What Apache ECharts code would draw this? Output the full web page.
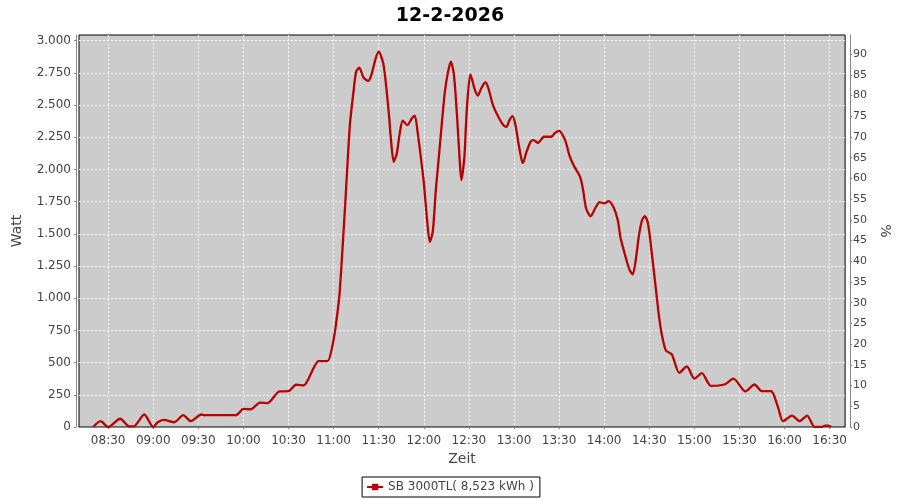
<!DOCTYPE html>
<html>
<head>
<meta charset="utf-8">
<script src="https://cdn.jsdelivr.net/npm/echarts@6/dist/echarts.min.js"></script>
<style>html,body{margin:0;padding:0;background:#fff;}#c{width:900px;height:500px;}</style>
</head>
<body>
<div id="c"></div>
<script>
const title = '12-2-2026';
const seriesName = 'SB 3000TL( 8,523 kWh )';
const xTickLabels = ['08:30','09:00','09:30','10:00','10:30','11:00','11:30','12:00','12:30','13:00','13:30','14:00','14:30','15:00','15:30','16:00','16:30'];
const wattTicks = [0,250,500,750,1000,1250,1500,1750,2000,2250,2500,2750,3000];
const pctTicks = [0,5,10,15,20,25,30,35,40,45,50,55,60,65,70,75,80,85,90];
const times = ['08:20','08:25','08:30','08:38','08:44','08:47','08:54','09:00','09:03','09:07','09:14','09:20','09:25','09:32','09:34','09:55',
'10:00','10:05','10:11','10:16','10:24','10:30','10:35','10:40','10:47','10:50','10:56','10:59','11:01','11:03','11:04','11:06','11:08','11:10','11:11','11:13','11:15','11:17','11:20','11:23','11:25','11:28','11:30','11:33','11:35','11:37','11:38','11:40','11:42','11:44','11:46','11:49','11:52','11:54','11:56','11:58',
'12:00','12:02','12:04','12:06','12:08','12:10','12:12','12:14','12:16','12:18','12:20','12:22','12:24','12:25','12:27','12:28','12:29','12:31','12:34','12:36','12:38','12:41','12:43','12:46','12:50','12:53','12:55','12:57','12:59',
'13:01','13:03','13:05','13:06','13:08','13:11','13:13','13:16','13:20','13:25','13:27','13:30','13:34','13:37','13:40','13:44','13:46','13:48','13:51','13:54','13:57',
'14:00','14:03','14:06','14:09','14:11','14:15','14:17','14:19','14:21','14:23','14:25','14:27','14:29','14:31','14:34','14:36','14:38','14:41','14:45','14:50','14:55',
'15:00','15:05','15:11','15:20','15:26','15:34','15:40','15:45','15:51','15:53','15:56','15:59','16:05','16:10','16:15','16:20','16:25','16:27','16:29','16:31'];
const watts = [0,45,0,64,5,5,97,0,37,56,37,92,45,97,92,92,
141,138,190,185,276,278,328,323,465,512,512,620,750,931,1040,1400,1787,2200,2370,2580,2760,2790,2712,2687,2730,2863,2915,2824,2642,2400,2250,2059,2124,2280,2378,2344,2396,2417,2280,2098,
1900,1632,1437,1520,1839,2098,2358,2600,2750,2837,2740,2435,2050,1917,2098,2331,2530,2739,2617,2573,2625,2677,2630,2500,2400,2344,2331,2383,2414,
2344,2202,2080,2051,2124,2214,2228,2207,2254,2254,2280,2300,2228,2105,2025,1942,1839,1697,1637,1697,1746,
1736,1754,1712,1610,1463,1290,1217,1186,1295,1476,1598,1637,1590,1420,1114,906,740,595,564,421,470,
375,418,320,330,375,276,330,278,278,245,141,45,89,45,89,0,0,10,10,0];

function toMin(s){const p=s.split(':');return (+p[0])*60+(+p[1]);}
function fmtMin(v){const h=Math.floor(v/60),m=Math.round(v-h*60);return (h<10?'0':'')+h+':'+(m<10?'0':'')+m;}
function fmtW(v){return String(Math.round(v)).replace(/\B(?=(\d{3})+(?!\d))/g,'.');}

const data = times.map((t,i)=>[toMin(t),watts[i]]);
const xTicks = xTickLabels.map(toMin);
const font = 'DejaVu Sans';
const lblColor = '#444444';
const axisGray = '#888888';

const chart = echarts.init(document.getElementById('c'), null, {renderer:'canvas'});
chart.setOption({
  animation:false,
  backgroundColor:'#ffffff',
  title:{text:title,left:'center',top:2,textStyle:{fontFamily:font,fontSize:19,fontWeight:'bold',color:'#000'}},
  grid:{left:79,right:52,top:35,bottom:73,show:true,backgroundColor:'#cccccc',borderColor:'#000',borderWidth:1},
  legend:{bottom:3,left:'center',data:[seriesName],borderColor:'#000',borderWidth:1,padding:[4,6,4,4],itemWidth:16,itemHeight:8,itemGap:4,
    textStyle:{fontFamily:font,fontSize:12,color:lblColor}},
  xAxis:{type:'value',min:toMin('08:10')+0.6,max:toMin('16:40')+0.3,offset:4,
    name:'Zeit',nameLocation:'middle',nameGap:20,nameTextStyle:{fontFamily:font,fontSize:14,color:lblColor},
    axisLine:{show:true,lineStyle:{color:axisGray}},
    axisTick:{show:true,length:2,customValues:xTicks,lineStyle:{color:axisGray}},
    axisLabel:{customValues:xTicks,formatter:fmtMin,fontFamily:font,fontSize:12,color:lblColor,margin:4},
    splitLine:{show:true,lineStyle:{color:'#ffffff',type:[2,2],width:1}}},
  yAxis:[
    {type:'value',min:0,max:3044,offset:3,position:'left',
     name:'Watt',nameLocation:'middle',nameGap:52,nameTextStyle:{fontFamily:font,fontSize:14,color:lblColor},
     axisLine:{show:true,lineStyle:{color:axisGray}},
     axisTick:{show:true,length:2,customValues:wattTicks,lineStyle:{color:axisGray}},
     axisLabel:{customValues:wattTicks,formatter:fmtW,fontFamily:font,fontSize:12,color:lblColor,margin:5},
     splitLine:{show:true,lineStyle:{color:'#ffffff',type:[2,2],width:1}}},
    {type:'value',min:0,max:94.6,offset:5,position:'right',
     name:'%',nameLocation:'middle',nameGap:24,nameRotate:-90,nameTextStyle:{fontFamily:font,fontSize:14,color:lblColor},
     axisLine:{show:true,lineStyle:{color:axisGray}},
     axisTick:{show:true,length:2,customValues:pctTicks,lineStyle:{color:axisGray}},
     axisLabel:{customValues:pctTicks,fontFamily:font,fontSize:11,color:lblColor,margin:3},
     splitLine:{show:false}}
  ],
  series:[{name:seriesName,type:'line',data:data,yAxisIndex:0,smooth:0.25,showSymbol:false,symbol:'rect',symbolSize:4,
    lineStyle:{color:'#b80000',width:2.3},itemStyle:{color:'#b80000'}}]
});
</script>
</body>
</html>
